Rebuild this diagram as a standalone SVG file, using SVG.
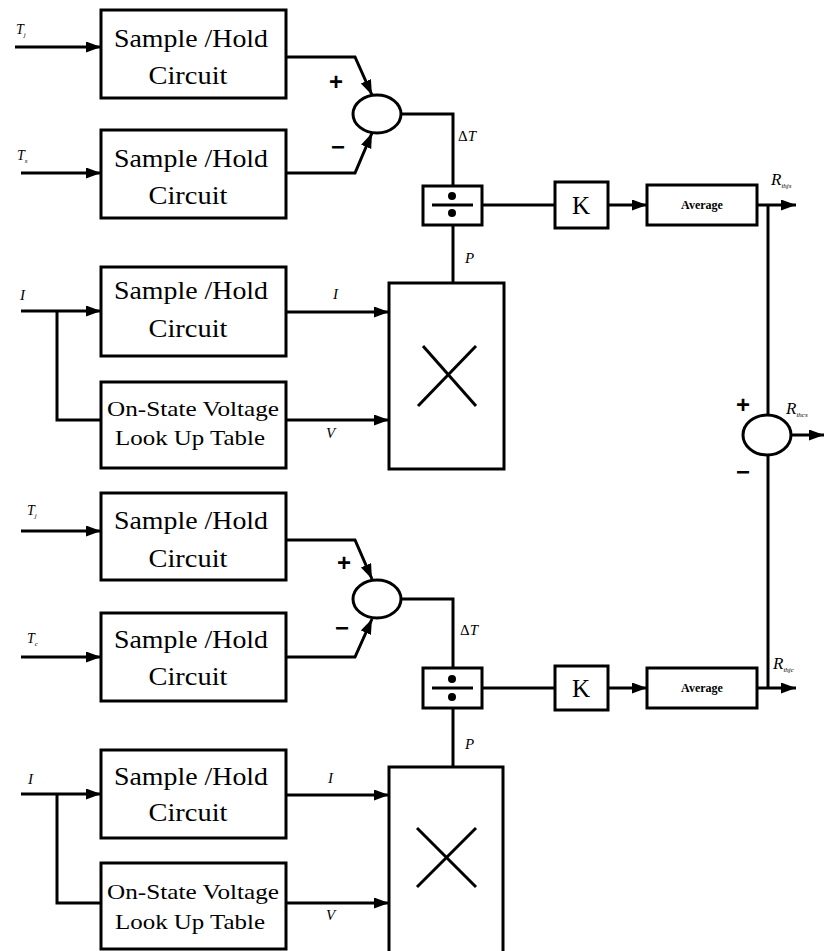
<svg xmlns="http://www.w3.org/2000/svg" width="824" height="951" viewBox="0 0 824 951">
<style>
.box{fill:#fff;stroke:#000;stroke-width:3}
.ln{fill:none;stroke:#000;stroke-width:3}
.arr{fill:none;stroke:#000;stroke-width:3;marker-end:url(#ah)}
.t{font-family:"Liberation Serif","Times New Roman",serif;fill:#000;text-anchor:middle}
.big{font-size:26px}
.mid{font-size:21px}
.it{font-family:"Liberation Serif","Times New Roman",serif;font-style:italic;fill:#000}
.sg{font-family:"Liberation Sans",Arial,sans-serif;font-weight:bold;font-size:24px;fill:#000;text-anchor:middle}
.avg{font-family:"Liberation Serif","Times New Roman",serif;font-weight:bold;font-size:12px;text-anchor:middle}
</style>
<defs>
<marker id="ah" markerUnits="userSpaceOnUse" markerWidth="18" markerHeight="12" refX="15" refY="5.5" orient="auto">
<path d="M0,0 L15,5.5 L0,11 z" fill="#000"/>
</marker>
</defs>
<rect width="824" height="951" fill="#fff"/>

<g id="connectors">
<line class="arr" x1="15" y1="47" x2="101" y2="47"/>
<line class="arr" x1="21" y1="173" x2="101" y2="173"/>
<line class="arr" x1="21" y1="311" x2="101" y2="311"/>
<polyline class="ln" points="57,311 57,420 101,420"/>
<polyline class="arr" points="286,57 355,57 372,95"/>
<polyline class="arr" points="286,173 355,173 372,133"/>
<polyline class="ln" points="401,114 453,114 453,186"/>
<line class="ln" x1="453" y1="225" x2="453" y2="283"/>
<line class="ln" x1="482" y1="205" x2="555" y2="205"/>
<line class="arr" x1="608" y1="205" x2="647" y2="205"/>
<line class="arr" x1="757" y1="205" x2="796" y2="205"/>
<line class="arr" x1="286" y1="312" x2="389" y2="312"/>
<line class="arr" x1="286" y1="420" x2="389" y2="420"/>
<line class="arr" x1="21" y1="531" x2="101" y2="531"/>
<line class="arr" x1="21" y1="657" x2="101" y2="657"/>
<line class="arr" x1="21" y1="794" x2="101" y2="794"/>
<polyline class="ln" points="57,794 57,903 101,903"/>
<polyline class="arr" points="286,540 355,540 372,579"/>
<polyline class="arr" points="286,657 355,657 372,619"/>
<polyline class="ln" points="401,599 453,599 453,668"/>
<line class="ln" x1="453" y1="708" x2="453" y2="767"/>
<line class="ln" x1="482" y1="688" x2="555" y2="688"/>
<line class="arr" x1="608" y1="688" x2="647" y2="688"/>
<line class="arr" x1="757" y1="688" x2="796" y2="688"/>
<line class="arr" x1="286" y1="795" x2="389" y2="795"/>
<line class="arr" x1="286" y1="903" x2="389" y2="903"/>
<line class="ln" x1="768" y1="205" x2="768" y2="415"/>
<line class="ln" x1="768" y1="455" x2="768" y2="688"/>
<line class="arr" x1="791" y1="435" x2="824" y2="435"/>
</g>

<g id="sh1">
<rect class="box" x="101" y="10" width="185" height="88"/>
<text class="t big" x="191" y="47" textLength="154" lengthAdjust="spacingAndGlyphs">Sample /Hold</text>
<text class="t big" x="188" y="84" textLength="79" lengthAdjust="spacingAndGlyphs">Circuit</text>
</g>
<g id="sh2">
<rect class="box" x="101" y="130" width="185" height="88"/>
<text class="t big" x="191" y="167" textLength="154" lengthAdjust="spacingAndGlyphs">Sample /Hold</text>
<text class="t big" x="188" y="204" textLength="79" lengthAdjust="spacingAndGlyphs">Circuit</text>
</g>
<g id="sh3">
<rect class="box" x="101" y="267" width="185" height="89"/>
<text class="t big" x="191" y="299" textLength="154" lengthAdjust="spacingAndGlyphs">Sample /Hold</text>
<text class="t big" x="188" y="337" textLength="79" lengthAdjust="spacingAndGlyphs">Circuit</text>
</g>
<g id="lut1">
<rect class="box" x="101" y="382" width="185" height="86"/>
<text class="t mid" x="193" y="416" textLength="172" lengthAdjust="spacingAndGlyphs">On-State Voltage</text>
<text class="t mid" x="190" y="445" textLength="150" lengthAdjust="spacingAndGlyphs">Look Up Table</text>
</g>
<g id="sum1">
<ellipse class="ln" cx="377" cy="114" rx="24" ry="19"/>
<text class="sg" x="336" y="90">+</text>
<text class="sg" x="338" y="155">−</text>
</g>
<g id="div1">
<rect class="box" x="423" y="186" width="59" height="39"/>
<line class="ln" x1="432" y1="205" x2="473" y2="205"/>
<circle cx="452" cy="196" r="4" fill="#000"/>
<circle cx="452" cy="213" r="4" fill="#000"/>
</g>
<g id="mul1">
<rect class="box" x="389" y="283" width="115" height="186"/>
<line class="ln" x1="423" y1="346" x2="476" y2="406"/>
<line class="ln" x1="418" y1="406" x2="476" y2="346"/>
</g>
<g id="k1">
<rect class="box" x="555" y="182" width="53" height="46"/>
<text class="t" x="581" y="214" font-size="25">K</text>
</g>
<g id="avg1">
<rect class="box" x="647" y="185" width="110" height="40"/>
<text class="avg" x="702" y="209">Average</text>
</g>

<g id="sh5">
<rect class="box" x="101" y="493" width="185" height="87"/>
<text class="t big" x="191" y="529" textLength="154" lengthAdjust="spacingAndGlyphs">Sample /Hold</text>
<text class="t big" x="188" y="567" textLength="79" lengthAdjust="spacingAndGlyphs">Circuit</text>
</g>
<g id="sh6">
<rect class="box" x="101" y="613" width="185" height="88"/>
<text class="t big" x="191" y="648" textLength="154" lengthAdjust="spacingAndGlyphs">Sample /Hold</text>
<text class="t big" x="188" y="685" textLength="79" lengthAdjust="spacingAndGlyphs">Circuit</text>
</g>
<g id="sh7">
<rect class="box" x="101" y="750" width="185" height="88"/>
<text class="t big" x="191" y="785" textLength="154" lengthAdjust="spacingAndGlyphs">Sample /Hold</text>
<text class="t big" x="188" y="821" textLength="79" lengthAdjust="spacingAndGlyphs">Circuit</text>
</g>
<g id="lut2">
<rect class="box" x="101" y="863" width="185" height="86"/>
<text class="t mid" x="193" y="899" textLength="172" lengthAdjust="spacingAndGlyphs">On-State Voltage</text>
<text class="t mid" x="190" y="929" textLength="150" lengthAdjust="spacingAndGlyphs">Look Up Table</text>
</g>
<g id="sum2">
<ellipse class="ln" cx="377" cy="599" rx="24" ry="19"/>
<text class="sg" x="344" y="571">+</text>
<text class="sg" x="342" y="636">−</text>
</g>
<g id="div2">
<rect class="box" x="423" y="668" width="59" height="40"/>
<line class="ln" x1="432" y1="688" x2="473" y2="688"/>
<circle cx="452" cy="679" r="4" fill="#000"/>
<circle cx="452" cy="697" r="4" fill="#000"/>
</g>
<g id="mul2">
<rect class="box" x="389" y="767" width="114" height="186"/>
<line class="ln" x1="417" y1="828" x2="476" y2="887"/>
<line class="ln" x1="417" y1="887" x2="476" y2="828"/>
</g>
<g id="k2">
<rect class="box" x="555" y="666" width="53" height="44"/>
<text class="t" x="581" y="697" font-size="25">K</text>
</g>
<g id="avg2">
<rect class="box" x="647" y="668" width="110" height="40"/>
<text class="avg" x="702" y="692">Average</text>
</g>

<g id="sum3">
<ellipse class="ln" cx="767" cy="435" rx="24" ry="20"/>
<text class="sg" x="743" y="413">+</text>
<text class="sg" x="743" y="480">−</text>
</g>

<g id="labels">
<text class="it" x="16" y="34" font-size="14">T<tspan font-size="7" dy="3">j</tspan></text>
<text class="it" x="17" y="160" font-size="14">T<tspan font-size="7" dy="3">s</tspan></text>
<text class="it" x="20" y="300" font-size="15">I</text>
<text class="it" x="333" y="299" font-size="15">I</text>
<text class="it" x="326" y="438" font-size="15">V</text>
<text class="it" x="458" y="141" font-size="15"><tspan font-style="normal">Δ</tspan>T</text>
<text class="it" x="465" y="263" font-size="15">P</text>
<text class="it" x="27" y="515" font-size="14">T<tspan font-size="7" dy="3">j</tspan></text>
<text class="it" x="27" y="643" font-size="14">T<tspan font-size="7" dy="3">c</tspan></text>
<text class="it" x="28" y="784" font-size="15">I</text>
<text class="it" x="328" y="783" font-size="15">I</text>
<text class="it" x="326" y="920" font-size="15">V</text>
<text class="it" x="460" y="635" font-size="15"><tspan font-style="normal">Δ</tspan>T</text>
<text class="it" x="465" y="749" font-size="15">P</text>
<text class="it" x="771" y="185" font-size="17">R<tspan font-size="7" dy="3">thjs</tspan></text>
<text class="it" x="786" y="414" font-size="17">R<tspan font-size="7" dy="3">thcs</tspan></text>
<text class="it" x="773" y="669" font-size="17">R<tspan font-size="7" dy="3">thjc</tspan></text>
</g>
</svg>
